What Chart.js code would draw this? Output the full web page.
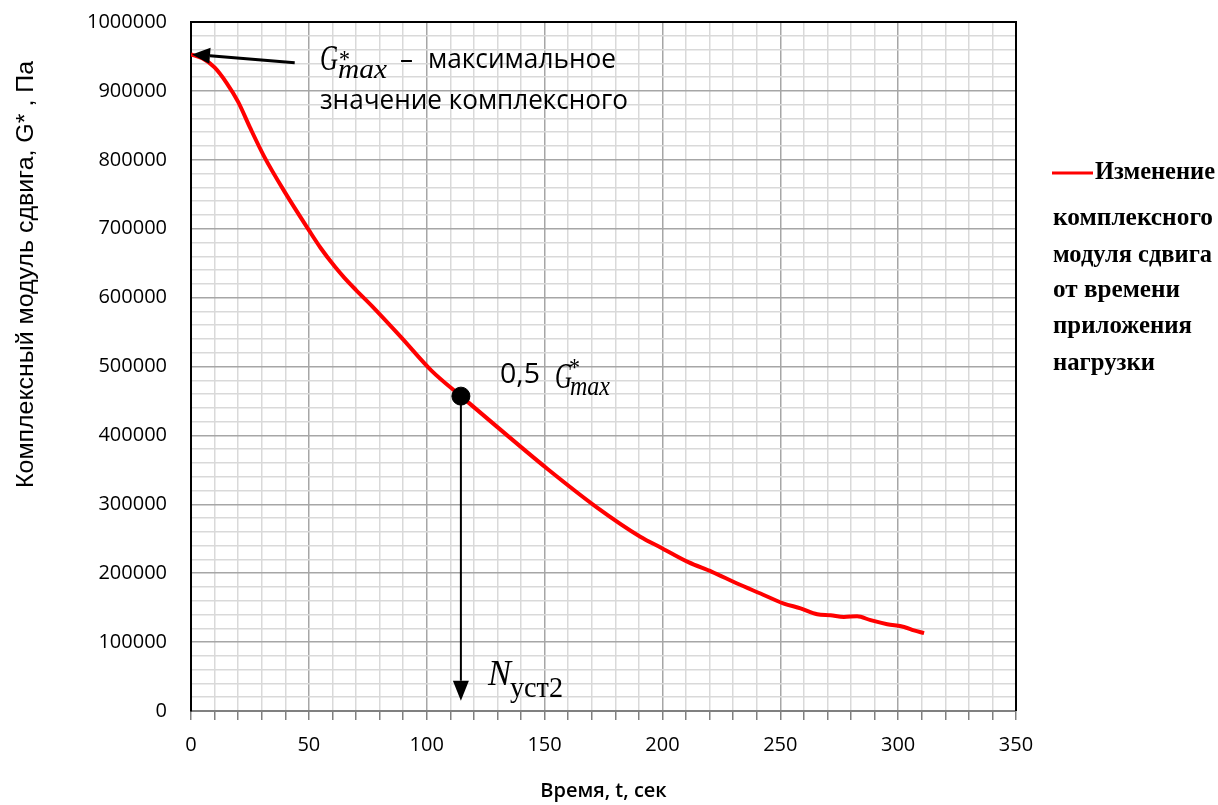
<!DOCTYPE html>
<html>
<head>
<meta charset="utf-8">
<script src="https://cdn.jsdelivr.net/npm/chart.js@4.4.1/dist/chart.umd.min.js"></script>
<style>
  body { margin: 0; background: #fff; }
  #wrap { width: 1218px; height: 805px; position: relative; }
</style>
</head>
<body>
<div id="wrap"><canvas id="chart"></canvas></div>
<script>
// time, s
const times = [0, 5, 10, 15, 20, 25, 31, 40, 50, 55, 61, 65, 70, 77, 89, 102, 114.5, 130, 151, 172, 190.6, 200, 211, 221, 231.7, 241.6, 251.5, 258.6, 265.7, 271.3, 277, 282.6, 288.3, 295.4, 302.5, 306.7, 311];
// complex shear modulus G*, Pa
const modulus = [953000, 947000, 934000, 912000, 884000, 847000, 805000, 752000, 698000, 672000, 645000, 629000, 611000, 587000, 543000, 494000, 457000, 412000, 352000, 296000, 253000, 236000, 216000, 202000, 185000, 170500, 156000, 149000, 140500, 139000, 136500, 137500, 131800, 126000, 122000, 117000, 113000];

// 0,5 G*max point
const halfTime = [114.5];
const halfModulus = [457000];

const xLabels = [0, 50, 100, 150, 200, 250, 300, 350];
const yLabels = [0, 100000, 200000, 300000, 400000, 500000, 600000, 700000, 800000, 900000, 1000000];

const legendLines = ["Изменение", "комплексного", "модуля сдвига", "от времени", "приложения", "нагрузки"];

function fitText(ctx, text, x, y, width) {
  const w = ctx.measureText(text).width;
  ctx.save();
  ctx.translate(x, y);
  ctx.scale(width / w, 1);
  ctx.fillText(text, 0, 0);
  ctx.restore();
}

function arrow(ctx, x1, y1, x2, y2, lw, headLen, headHalf) {
  const ang = Math.atan2(y2 - y1, x2 - x1);
  const bx = x2 - Math.cos(ang) * headLen;
  const by = y2 - Math.sin(ang) * headLen;
  ctx.lineWidth = lw;
  ctx.beginPath();
  ctx.moveTo(x1, y1);
  ctx.lineTo(bx, by);
  ctx.stroke();
  ctx.beginPath();
  ctx.moveTo(x2, y2);
  ctx.lineTo(bx + Math.sin(ang) * headHalf, by - Math.cos(ang) * headHalf);
  ctx.lineTo(bx - Math.sin(ang) * headHalf, by + Math.cos(ang) * headHalf);
  ctx.closePath();
  ctx.fill();
}

const extras = {
  id: "extras",
  afterDatasetsDraw(chart) {
    const ctx = chart.ctx;
    const xs = chart.scales.x, ys = chart.scales.y;
    const a = chart.chartArea;
    ctx.save();
    ctx.strokeStyle = "#000";
    ctx.fillStyle = "#000";

    // frame top / right
    ctx.lineWidth = 2;
    ctx.beginPath();
    ctx.moveTo(a.left, a.top);
    ctx.lineTo(a.right, a.top);
    ctx.lineTo(a.right, a.bottom);
    ctx.stroke();

    // arrow to G*max
    arrow(ctx, xs.getPixelForValue(44), ys.getPixelForValue(941000),
      xs.getPixelForValue(times[0]) + 1, ys.getPixelForValue(modulus[0]), 3, 18, 8);

    // arrow down from 0,5 G*max
    const hx = xs.getPixelForValue(halfTime[0]);
    arrow(ctx, hx, ys.getPixelForValue(halfModulus[0]), hx, ys.getPixelForValue(15000), 2, 20, 8);

    // label G*max – максимальное значение комплексного
    ctx.textBaseline = "alphabetic";
    ctx.font = "italic 35px 'Liberation Serif'";
    fitText(ctx, "G", 320, 70, 18);
    ctx.font = "26px 'Liberation Serif'";
    fitText(ctx, "*", 339, 68, 11);
    ctx.font = "italic 27px 'Liberation Serif'";
    fitText(ctx, "max", 338, 78, 49);
    ctx.font = "28px 'Open Sans'";
    fitText(ctx, "–", 400, 68, 13);
    fitText(ctx, "максимальное", 428, 68, 188);
    fitText(ctx, "значение комплексного", 320, 109, 308);

    // label 0,5 G*max
    ctx.font = "28px 'Open Sans'";
    fitText(ctx, "0,5", 500, 383, 40);
    ctx.font = "italic 35px 'Liberation Serif'";
    fitText(ctx, "G", 555, 388, 17);
    ctx.font = "26px 'Liberation Serif'";
    fitText(ctx, "*", 569, 376, 11);
    ctx.font = "italic 27px 'Liberation Serif'";
    fitText(ctx, "max", 570, 395, 40);

    // label N уст2
    ctx.font = "italic 35px 'Liberation Serif'";
    fitText(ctx, "N", 488, 685, 23);
    ctx.font = "29px 'Liberation Serif'";
    fitText(ctx, "уст2", 510, 697, 53);

    // y axis title
    ctx.save();
    ctx.translate(33, 488);
    ctx.rotate(-Math.PI / 2);
    ctx.font = "23px 'Liberation Sans'";
    fitText(ctx, "Комплексный модуль сдвига, G* , Па", 0, 0, 427);
    ctx.restore();

    // legend
    ctx.strokeStyle = "#ff0000";
    ctx.lineWidth = 3;
    ctx.beginPath();
    ctx.moveTo(1052, 173);
    ctx.lineTo(1093, 173);
    ctx.stroke();
    ctx.fillStyle = "#000";
    ctx.font = "bold 25px 'Liberation Serif'";
    const lx = [1095, 1053, 1053, 1053, 1053, 1053];
    const ly = [179, 225, 262, 297, 333, 370];
    const lw = [120, 160, 159, 127, 139, 102];
    legendLines.forEach((t, i) => fitText(ctx, t, lx[i], ly[i], lw[i]));

    ctx.restore();
  }
};

const tickFont = { family: "'Open Sans'", size: 20 };

new Chart(document.getElementById("chart"), {
  type: "scatter",
  data: {
    datasets: [
      {
        data: halfTime.map((t, i) => ({ x: t, y: halfModulus[i] })),
        backgroundColor: "#000",
        borderColor: "#000",
        pointRadius: 9,
        showLine: false,
        order: 0,
      },
      {
        data: times.map((t, i) => ({ x: t, y: modulus[i] })),
        borderColor: "#ff0000",
        borderWidth: 4,
        pointRadius: 0,
        showLine: true,
        cubicInterpolationMode: "monotone",
        order: 1,
      },
    ],
  },
  options: {
    responsive: true,
    maintainAspectRatio: false,
    animation: false,
    layout: { padding: { top: 22, right: 202, left: 0, bottom: 0 } },
    plugins: {
      legend: { display: false },
      tooltip: { enabled: false },
    },
    scales: {
      x: {
        type: "linear",
        min: 0,
        max: 350,
        afterFit: (s) => { s.height = 94; s.paddingLeft = 0; s.paddingRight = 0; },
        ticks: {
          stepSize: 10,
          autoSkip: false,
          maxRotation: 0,
          padding: 13,
          color: "#000",
          font: tickFont,
          callback: (v) => (xLabels.includes(v) ? v : ""),
        },
        grid: {
          color: (c) => (c.tick && c.tick.value % 50 === 0 ? "#a6a6a6" : "#d9d9d9"),
          lineWidth: 1.5,
          tickColor: "#808080",
          tickLength: 9,
          tickWidth: 1.5,
        },
        border: { color: "#808080", width: 2 },
        title: {
          display: true,
          text: "Время, t, сек",
          color: "#000",
          font: { family: "'Open Sans'", size: 20, weight: "600" },
          padding: { top: 0, bottom: 2 },
        },
      },
      y: {
        min: 0,
        max: 1000000,
        afterFit: (s) => { s.width = 191; s.paddingTop = 0; s.paddingBottom = 0; },
        ticks: {
          stepSize: 20000,
          autoSkip: false,
          padding: 24,
          color: "#000",
          font: tickFont,
          callback: (v) => (yLabels.includes(v) ? v : ""),
        },
        grid: {
          color: (c) => (c.tick && c.tick.value % 100000 === 0 ? "#a6a6a6" : "#d9d9d9"),
          lineWidth: 1.5,
          drawTicks: false,
        },
        border: { color: "#000", width: 2 },
      },
    },
  },
  plugins: [extras],
});
</script>
</body>
</html>
